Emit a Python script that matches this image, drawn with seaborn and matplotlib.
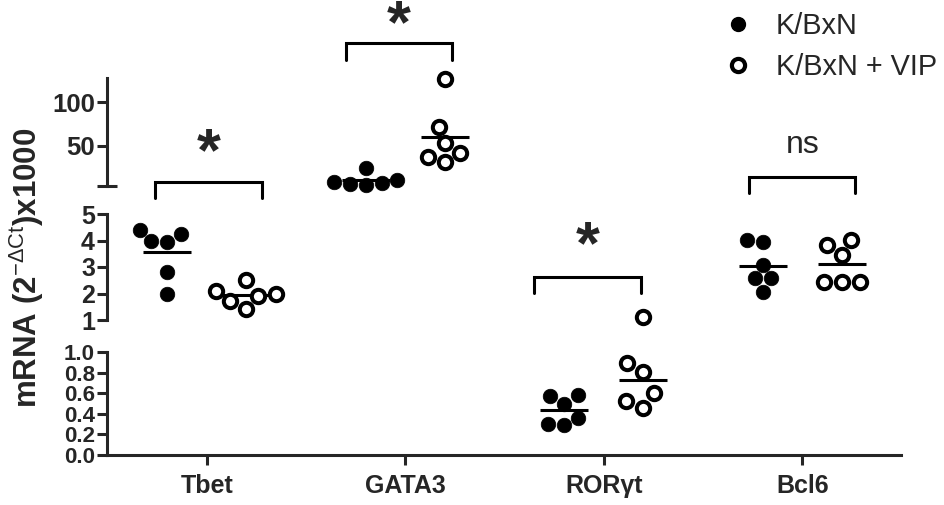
import numpy as np
import pandas as pd
import matplotlib.pyplot as plt
import seaborn as sns
from matplotlib.lines import Line2D

# valores (mRNA x1000)
genes = ["Tbet", "GATA3", "RORγt", "Bcl6"]
grupos = ["K/BxN", "K/BxN + VIP"]

tbet_kbxn = [4.4, 4.25, 4.0, 3.95, 2.8, 2.0]
tbet_vip = [2.5, 2.1, 2.0, 1.9, 1.7, 1.4]
gata3_kbxn = [25, 11, 6, 5.5, 9, 7]
gata3_vip = [127, 72, 53, 42, 37, 31]
ror_kbxn = [0.57, 0.58, 0.50, 0.36, 0.29, 0.30]
ror_vip = [1.1, 0.89, 0.81, 0.60, 0.52, 0.46]
bcl6_kbxn = [3.95, 4.02, 3.08, 2.58, 2.58, 2.07]
bcl6_vip = [4.02, 3.83, 3.45, 2.45, 2.45, 2.45]

series = {
    ("Tbet", "K/BxN"): tbet_kbxn, ("Tbet", "K/BxN + VIP"): tbet_vip,
    ("GATA3", "K/BxN"): gata3_kbxn, ("GATA3", "K/BxN + VIP"): gata3_vip,
    ("RORγt", "K/BxN"): ror_kbxn, ("RORγt", "K/BxN + VIP"): ror_vip,
    ("Bcl6", "K/BxN"): bcl6_kbxn, ("Bcl6", "K/BxN + VIP"): bcl6_vip,
}
linhas = []
for (g, grp), vals in series.items():
    for v in vals:
        linhas.append({"gene": g, "grupo": grp, "valor": v})
df = pd.DataFrame(linhas)
medias = df.groupby(["gene", "grupo"], as_index=False)["valor"].mean()

sns.set_theme(style="ticks")
plt.rcParams["font.family"] = ["Liberation Sans", "DejaVu Sans"]
plt.rcParams["mathtext.fontset"] = "custom"
plt.rcParams["mathtext.rm"] = "Liberation Sans"
plt.rcParams["mathtext.bf"] = "Liberation Sans:bold"

W, H = 945, 505
fig = plt.figure(figsize=(W / 100, H / 100), dpi=100)

def fx(px):
    return px / W

def box(top_px, bot_px):
    return [fx(107.5), 1 - bot_px / H, fx(901.5) - fx(107.5), (bot_px - top_px) / H]

ax_top = fig.add_axes(box(78, 186))
ax_mid = fig.add_axes(box(214, 320))
ax_bot = fig.add_axes(box(352, 455))

# segmentos do eixo quebrado: (eixo, limite inferior, limite superior)
segmentos = [(ax_top, 4, 128), (ax_mid, 1, 5), (ax_bot, 0, 1)]
lw = 2.2

def no_segmento(s, ax):
    if ax is ax_top:
        return s > 5
    if ax is ax_mid:
        return (s >= 1) & (s <= 5)
    return s < 1

for ax, lo, hi in segmentos:
    sub = df[no_segmento(df["valor"], ax)]
    sns.swarmplot(data=sub, x="gene", y="valor", hue="grupo", order=genes,
                  hue_order=grupos, dodge=True, palette=["black", "black"],
                  size=10.5, ax=ax, legend=False, clip_on=False)
    for col in ax.collections:
        offs = col.get_offsets()
        if len(offs) == 0:
            continue
        xm = np.mean(offs[:, 0])
        if xm - round(xm) > 0:
            col.set_facecolor("white")
            col.set_edgecolor("black")
            col.set_linewidth(2.9)
            col.set_sizes([92])
        else:
            col.set_facecolor("black")
            col.set_edgecolor("black")
            col.set_linewidth(0.5)
        col.set_clip_on(False)
    # linha da média (só no segmento onde a média cai)
    sub_m = medias[no_segmento(medias["valor"], ax)]
    sns.pointplot(data=sub_m, x="gene", y="valor", hue="grupo", order=genes,
                  hue_order=grupos, dodge=0.4, estimator="mean", errorbar=None,
                  markers="_", linestyle="none", palette=["black", "black"],
                  markersize=34, markeredgewidth=lw, ax=ax, legend=False)
    ax.set_ylim(lo, hi)
    ax.set_xlim(-0.5, 3.5)
    ax.set_xlabel("")
    ax.set_ylabel("")
    for s in ["top", "right"]:
        ax.spines[s].set_visible(False)
    ax.spines["left"].set_linewidth(lw)
    ax.patch.set_alpha(0)
    ax.tick_params(axis="y", which="major", direction="out", length=7, width=lw, pad=2)
    ax.tick_params(axis="y", which="minor", direction="inout", length=14, width=lw)

ax_top.set_yticks([50, 100])
ax_top.set_yticks([4], minor=True)
ax_top.set_yticklabels(["50", "100"], fontsize=18.5, fontweight="bold")
ax_mid.set_yticks([1, 2, 3, 4, 5])
ax_mid.set_yticks([1, 5], minor=True)
ax_mid.set_yticklabels(["1", "2", "3", "4", "5"], fontsize=18, fontweight="bold")
ax_bot.set_yticks([0, 0.2, 0.4, 0.6, 0.8, 1.0])
ax_bot.set_yticks([1.0], minor=True)
ax_bot.set_yticklabels(["0.0", "0.2", "0.4", "0.6", "0.8", "1.0"], fontsize=16,
                       fontweight="bold")

for ax in [ax_top, ax_mid]:
    ax.spines["bottom"].set_visible(False)
    ax.tick_params(axis="x", bottom=False, labelbottom=False)

ax_bot.spines["bottom"].set_linewidth(lw)
ax_bot.set_xticks(range(len(genes)))
ax_bot.set_xticklabels(genes, fontsize=18, fontweight="bold")
ax_bot.tick_params(axis="x", direction="out", length=7, width=lw, pad=7)

# colchetes de significância: (eixo, centro, meia largura, y barra, y pernas, y texto, texto)
colchetes = [
    (ax_mid, 0.01, 0.27, 6.22, 5.6, 7.27, "*"),
    (ax_top, 0.97, 0.267, 167.8, 148.4, 188, "*"),
    (ax_mid, 1.92, 0.27, 2.62, 2.02, 3.76, "*"),
    (ax_mid, 3.0, 0.267, 6.4, 5.79, 7.3, "ns"),
]
for ax, xc, hw, yb, yp, yt, txt in colchetes:
    ax.plot([xc - hw, xc - hw, xc + hw, xc + hw], [yp, yb, yb, yp],
            color="black", lw=lw, clip_on=False, solid_joinstyle="miter")
    if txt == "*":
        ax.text(xc, yt, r"$\mathbf{*}$", ha="center", va="center", fontsize=44,
                clip_on=False)
    else:
        ax.text(xc, yt, txt, ha="center", va="baseline", fontsize=23, clip_on=False)

fig.text(fx(27), 1 - 268 / H, r"mRNA (2$^{\mathrm{-\Delta Ct}}$)x1000", rotation=90,
         ha="center", va="center", fontsize=22.5, fontweight="bold")

handles = [
    Line2D([], [], marker="o", linestyle="none", markersize=10, color="black"),
    Line2D([], [], marker="o", linestyle="none", markersize=9.5, markerfacecolor="white",
           markeredgecolor="black", markeredgewidth=3),
]
fig.legend(handles, grupos, loc="upper left", bbox_to_anchor=(fx(724), 1 - 12 / H),
           frameon=False, fontsize=20.8, handlelength=1.0, handletextpad=0.8,
           borderpad=0, borderaxespad=0, labelspacing=0.45)

fig.savefig("out.png", dpi=100)
